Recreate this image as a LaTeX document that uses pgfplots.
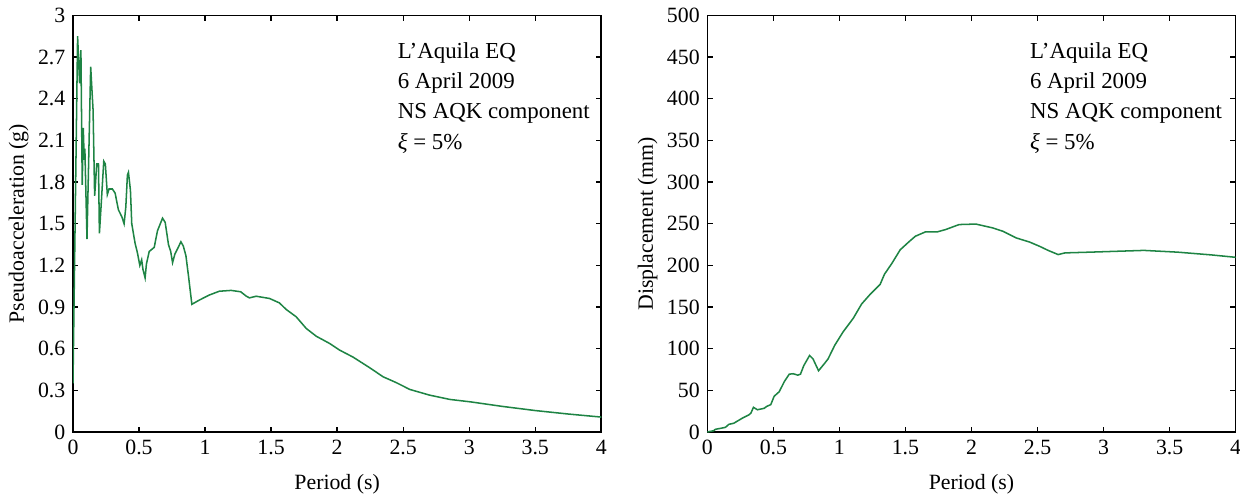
\documentclass[border=0pt]{standalone}
\usepackage{fontspec}
\setmainfont{Liberation Serif}
\usepackage{pgfplots}
\pgfplotsset{compat=1.18}
\definecolor{curve}{RGB}{30,132,68}
\pgfplotsset{
  spec/.style={
    width=8.52cm,height=6.72cm,scale only axis,
    xmin=0,xmax=4,
    xtick={0,0.5,1,1.5,2,2.5,3,3.5,4},
    tick align=inside,major tick length=2.4pt,
    axis line style={line width=0.75pt},
    tick style={line width=0.6pt,black},
    /pgf/number format/assume math mode=true,
    tick label style={font=\fontsize{10}{12}\selectfont},
    label style={font=\fontsize{10}{12}\selectfont},
    xlabel={Period (s)},
    xlabel style={yshift=-2pt},
    ylabel style={yshift=-2.5pt},
  },
  curv/.style={curve,line width=0.7pt,mark=none},
}
\begin{document}
\begin{tikzpicture}
\path[use as bounding box] (-1.177,-0.984) rectangle (18.82,6.968);
\begin{axis}[spec,
  ymin=0,ymax=3,
  ytick={0,0.3,0.6,0.9,1.2,1.5,1.8,2.1,2.4,2.7,3},
  yticklabels={0,0.3,0.6,0.9,1.2,1.5,1.8,2.1,2.4,2.7,3},
  ylabel={Pseudoacceleration (g)},
]
\addplot[curv] coordinates {
(0.0,0.35) (0.035,2.85) (0.05,2.51) (0.06,2.75) (0.07,1.78) (0.078,2.19)
(0.085,1.96) (0.09,2.04) (0.106,1.39) (0.134,2.63) (0.152,2.32) (0.164,1.70)
(0.18,1.93) (0.193,1.93) (0.2,1.43) (0.213,1.63) (0.233,1.95) (0.245,1.93)
(0.26,1.71) (0.273,1.75) (0.298,1.75) (0.319,1.72) (0.344,1.60) (0.37,1.55)
(0.387,1.50) (0.4,1.62) (0.412,1.85) (0.42,1.87) (0.435,1.74) (0.445,1.50)
(0.47,1.36) (0.488,1.29) (0.506,1.20) (0.52,1.24) (0.53,1.17) (0.546,1.11)
(0.556,1.21) (0.577,1.30) (0.615,1.33) (0.64,1.45) (0.678,1.54) (0.698,1.51)
(0.723,1.35) (0.74,1.30) (0.754,1.22) (0.771,1.28) (0.792,1.32) (0.817,1.37)
(0.835,1.34) (0.855,1.27) (0.875,1.12) (0.9,0.92) (0.956,0.95) (1.03,0.986)
(1.108,1.014) (1.197,1.02) (1.27,1.01) (1.31,0.98) (1.336,0.966) (1.387,0.978)
(1.488,0.962) (1.563,0.93) (1.614,0.883) (1.69,0.83) (1.766,0.746) (1.842,0.69)
(1.943,0.638) (2.019,0.59) (2.12,0.54) (2.247,0.463) (2.348,0.398) (2.45,0.355)
(2.55,0.307) (2.70,0.266) (2.854,0.235) (3.006,0.218) (3.25,0.185) (3.5,0.155)
(3.75,0.13) (4.0,0.108)
};
\node[anchor=north west,align=left,inner sep=0pt,font=\fontsize{10.5}{13.8}\selectfont]
  at (rel axis cs:0.614,0.935)
  {L’Aquila EQ\\6 April 2009\\NS AQK component\\\textit{ξ} = 5\%};
\end{axis}
\begin{axis}[spec,at={(10.23cm,0)},
  ymin=0,ymax=500,
  ytick={0,50,100,150,200,250,300,350,400,450,500},
  ylabel={Displacement (mm)},
]
\addplot[curv] coordinates {
(0.0,0) (0.01,0.5) (0.048,1.6) (0.06,3.3) (0.1,4.5) (0.137,5.7) (0.163,9.3)
(0.2,10.6) (0.265,16.7) (0.315,20.7) (0.33,22.8) (0.349,29.7) (0.379,26.8)
(0.43,28.5) (0.45,30.9) (0.48,32.9) (0.506,43) (0.544,48.4) (0.583,60.6)
(0.62,69.5) (0.65,70) (0.685,68.3) (0.705,69.5) (0.73,79.7) (0.774,91.9)
(0.8,87.8) (0.842,73.6) (0.888,82.5) (0.914,87.8) (0.964,104) (1.028,120.3)
(1.105,136.6) (1.168,153.7) (1.231,165) (1.308,177.2) (1.341,189.4) (1.397,202.4)
(1.46,218.7) (1.524,228) (1.575,235) (1.651,240.2) (1.74,240.2) (1.804,243)
(1.906,249) (2.033,249.6) (2.16,245) (2.237,241) (2.338,233) (2.44,228)
(2.517,222.8) (2.58,218) (2.656,213) (2.708,215) (2.898,215.9) (3.305,218)
(3.56,215.9) (3.815,212.6) (4.0,209.7)
};
\node[anchor=north west,align=left,inner sep=0pt,font=\fontsize{10.5}{13.8}\selectfont]
  at (rel axis cs:0.61,0.935)
  {L’Aquila EQ\\6 April 2009\\NS AQK component\\\textit{ξ} = 5\%};
\end{axis}
\end{tikzpicture}
\end{document}
